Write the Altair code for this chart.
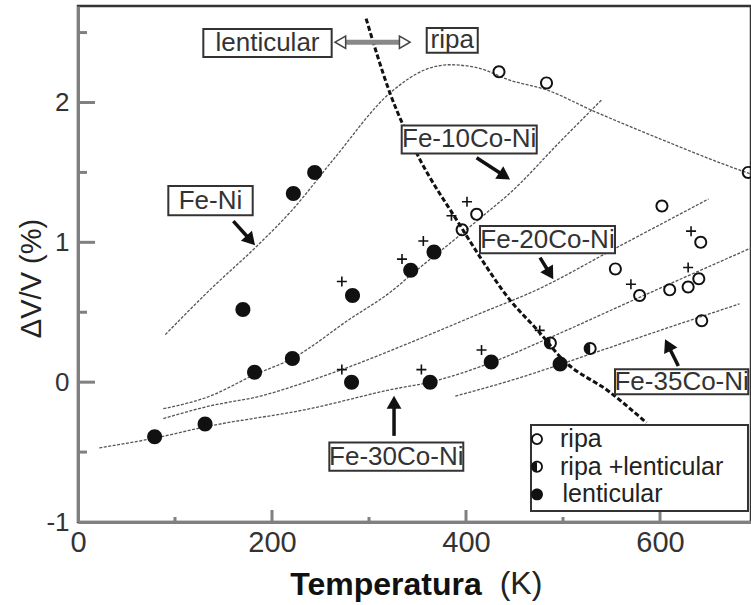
import math
import altair as alt
import pandas as pd

FONT = "Liberation Sans"

# ---------------- data ----------------
# fitted curves
feni_T = [90, 136, 184, 222, 263, 322, 360, 383, 411, 445, 483, 531, 600, 669, 693]
feni_V = [0.34, 0.66, 0.97, 1.24, 1.59, 2.07, 2.24, 2.27, 2.25, 2.16, 2.09, 1.94, 1.74, 1.55, 1.49]
co10_T = [88, 136, 181, 221, 280, 325, 342, 390, 421, 445, 497, 540]
co10_V = [-0.19, -0.10, 0.05, 0.17, 0.45, 0.66, 0.76, 1.03, 1.21, 1.35, 1.72, 2.02]
co20_T = [88, 136, 188, 239, 272, 352, 414, 473, 552, 650]
co20_V = [-0.26, -0.17, -0.10, 0.01, 0.09, 0.31, 0.49, 0.66, 0.95, 1.31]
co30_T = [22, 79, 131, 239, 325, 363, 426, 487, 580, 694]
co30_V = [-0.47, -0.40, -0.32, -0.19, -0.05, 0.00, 0.14, 0.32, 0.61, 0.96]
co35_T = [389, 450, 528, 600, 682]
co35_V = [-0.10, 0.02, 0.20, 0.37, 0.56]
# boundary lenticular / ripa
bd_T = [297, 322, 349, 394, 414, 445, 474, 500, 548, 586]
bd_V = [2.60, 2.06, 1.64, 1.12, 0.90, 0.59, 0.37, 0.16, -0.07, -0.29]

# measured points
len_T = [79, 131, 170, 182, 221, 222, 244, 282, 283, 343, 363, 367, 426, 497]
len_V = [-0.39, -0.30, 0.52, 0.07, 0.17, 1.35, 1.50, 0.00, 0.62, 0.80, 0.00, 0.93, 0.145, 0.13]
mix_T = [487, 528]
mix_V = [0.28, 0.24]
ripa_T = [396, 411, 434, 483, 554, 579, 602, 610, 629, 640, 642, 643, 691]
ripa_V = [1.09, 1.20, 2.22, 2.14, 0.81, 0.62, 1.26, 0.66, 0.68, 0.74, 1.00, 0.44, 1.50]
plus_T = [272, 334, 356, 385, 401, 272, 354, 416, 476, 570, 629, 632]
plus_V = [0.72, 0.88, 1.01, 1.19, 1.29, 0.09, 0.09, 0.23, 0.37, 0.70, 0.82, 1.08]

CATS = ["ripa", "ripa +lenticular", "lenticular"]

# annotation labels (boxes in data units)
lab_text = ["lenticular", "ripa", "Fe-Ni", "Fe-10Co-Ni", "Fe-20Co-Ni", "Fe-30Co-Ni", "Fe-35Co-Ni"]
lab_x1 = [129.2, 359.5, 93.1, 333.7, 414.4, 259.1, 553.6]
lab_x2 = [261.5, 412.1, 180.1, 472.9, 553.6, 397.2, 691.0]
lab_y1 = [2.326, 2.355, 1.193, 1.636, 0.921, -0.634, -0.086]
lab_y2 = [2.526, 2.533, 1.402, 1.836, 1.116, -0.431, 0.093]

# arrows (tail -> head)
arr_tT = [160.1, 410.9, 476.3, 325.8, 618.9]
arr_tV = [1.152, 1.605, 0.891, -0.384, 0.116]
arr_hT = [182.5, 445.4, 490.0, 325.8, 605.2]
arr_hV = [0.979, 1.450, 0.736, -0.098, 0.307]

# double arrow lenticular <-> ripa
dbl_left_T, dbl_right_T, dbl_V = 265.0, 342.3, 2.431

# legend placement (data units)
leg_x1, leg_x2, leg_y1, leg_y2 = 467.0, 690.7, -0.921, -0.306
leg_sym_T = 473.2
leg_txt_T = [496.9, 496.9, 499.5]
leg_row_V = [-0.407, -0.605, -0.803]

# x-axis title unit part, placed below the axis
unit_T, unit_V, unit_text = 456.7, -1.443, "(K)"

# ---------------- geometry ----------------
W, H = 673, 516
X_MAX = 693.8
Y_MIN, Y_MAX = -1.0, 2.69
KX = W / X_MAX
KY = H / (Y_MAX - Y_MIN)

XS = alt.Scale(domain=[0, X_MAX], nice=False, zero=False)
YS = alt.Scale(domain=[Y_MIN, Y_MAX], nice=False, zero=False)

XAX = alt.Axis(values=[0, 200, 400, 600], labelExpr="'' + datum.value", ticks=False, grid=False,
               domainColor="#808080", domainWidth=3, labelFont=FONT, labelFontSize=29,
               labelColor="#333", labelPadding=6, labelFlush=False,
               title="Temperatura", titleFont=FONT, titleFontSize=32, titleFontWeight="bold",
               titleColor="#111", titleX=307.5, titleY=62, titleBaseline="middle", titleAlign="center")
YAX = alt.Axis(values=[-1, 0, 1, 2], labelExpr="'' + datum.value", ticks=False, grid=False,
               domainColor="#808080", domainWidth=3, labelFont=FONT, labelFontSize=26,
               labelColor="#333", labelPadding=9,
               title="ΔV/V (%)", titleFont=FONT, titleFontSize=29, titleFontWeight="normal",
               titleColor="#222", titleAngle=270, titleX=-47, titleY=272,
               titleBaseline="middle", titleAlign="center")


def X():
    return alt.X("x:Q", scale=XS, axis=XAX)


def Y():
    return alt.Y("y:Q", scale=YS, axis=YAX)


# symbol paths (unit box -1..1)
OUT = "M -1 0 A 1 1 0 1 1 1 0 A 1 1 0 1 1 -1 0 Z"
IN = "M -0.7 0 A 0.7 0.7 0 1 0 0.7 0 A 0.7 0.7 0 1 0 -0.7 0 Z"
HALFD = "M 0 1 A 1 1 0 0 1 0 -1 Z"
RING = OUT + " " + IN
MIX = HALFD + " " + OUT + " " + IN
DISK = OUT
PLUS = "M -1 0 L 1 0 M 0 -1 L 0 1"
SHAPES = dict(zip(CATS, [RING, MIX, DISK]))

# ---------------- tables ----------------
rows = []
for name, T, V in [("Fe-Ni", feni_T, feni_V), ("10Co", co10_T, co10_V), ("20Co", co20_T, co20_V),
                   ("30Co", co30_T, co30_V), ("35Co", co35_T, co35_V)]:
    for i, (t, v) in enumerate(zip(T, V)):
        rows.append({"series": name, "i": i, "x": t, "y": v})
curves = pd.DataFrame(rows)
bound = pd.DataFrame({"i": range(len(bd_T)), "x": bd_T, "y": bd_V})

pts = pd.DataFrame(
    [{"x": t, "y": v, "type": "lenticular"} for t, v in zip(len_T, len_V)]
    + [{"x": t, "y": v, "type": "ripa +lenticular"} for t, v in zip(mix_T, mix_V)]
    + [{"x": t, "y": v, "type": "ripa"} for t, v in zip(ripa_T, ripa_V)]
)
pts["shape"] = pts["type"].map(SHAPES)
filled_pts = pd.DataFrame({"x": len_T, "y": len_V})
plus = pd.DataFrame({"x": plus_T, "y": plus_V})

boxes = pd.DataFrame({"x": lab_x1, "x2": lab_x2, "y": lab_y1, "y2": lab_y2})
texts = pd.DataFrame({"x": [(a + b) / 2 for a, b in zip(lab_x1, lab_x2)],
                      "y": [(a + b) / 2 for a, b in zip(lab_y1, lab_y2)],
                      "label": lab_text})

leg_box = pd.DataFrame({"x": [leg_x1], "x2": [leg_x2], "y": [leg_y1], "y2": [leg_y2]})
leg_sym = pd.DataFrame({"x": [leg_sym_T] * 3, "y": leg_row_V, "shape": [SHAPES[c] for c in CATS]})
leg_txt = pd.DataFrame({"x": leg_txt_T, "y": leg_row_V, "label": CATS})
unit_df = pd.DataFrame({"x": [unit_T], "y": [unit_V], "label": [unit_text]})

# ticks (inward)
tk = []
for v in [0, 1, 2]:
    tk.append({"x": 0, "x2": 17 / KX, "y": v, "y2": v})
for v in [-0.5, 0.5, 1.5, 2.5]:
    tk.append({"x": 0, "x2": 9 / KX, "y": v, "y2": v})
for v in [200, 400, 600]:
    tk.append({"x": v, "x2": v, "y": Y_MIN, "y2": Y_MIN + 12 / KY})
for v in [100, 300, 500]:
    tk.append({"x": v, "x2": v, "y": Y_MIN, "y2": Y_MIN + 5 / KY})
ticks = pd.DataFrame(tk)

# arrows
HEAD = 220
h_px = 0.433 * math.sqrt(HEAD)
shafts, heads = [], []
for tx, ty, hx, hy in zip(arr_tT, arr_tV, arr_hT, arr_hV):
    dx = (hx - tx) * KX
    dy = -(hy - ty) * KY
    L = math.hypot(dx, dy)
    ux, uy = dx / L, dy / L
    cx = hx - ux * h_px / KX
    cy = hy + uy * h_px / KY
    ang = math.degrees(math.atan2(dx, -dy)) % 360
    shafts.append({"x": tx, "y": ty, "x2": cx, "y2": cy})
    heads.append({"x": cx, "y": cy, "angle": ang})
shafts = pd.DataFrame(shafts)
heads = pd.DataFrame(heads)

DBL = 150
dh = 0.433 * math.sqrt(DBL)
dbl_shaft = pd.DataFrame({"x": [dbl_left_T + 2 * dh / KX], "x2": [dbl_right_T - 2 * dh / KX],
                          "y": [dbl_V], "y2": [dbl_V]})
dbl_heads = pd.DataFrame({"x": [dbl_left_T + dh / KX, dbl_right_T - dh / KX],
                          "y": [dbl_V, dbl_V],
                          "shape": ["triangle-left", "triangle-right"]})

# ---------------- layers ----------------
tick_layer = alt.Chart(ticks).mark_rule(color="#808080", strokeWidth=3).encode(
    x=X(), x2="x2:Q", y=Y(), y2="y2:Q")

curve_layer = alt.Chart(curves).mark_line(
    color="#555", strokeWidth=1.3, strokeDash=[3, 1.5], interpolate="monotone").encode(
    x=X(), y=Y(), detail="series:N", order="i:Q")

bound_layer = alt.Chart(bound).mark_line(
    color="#111", strokeWidth=3, strokeDash=[5, 2.5], interpolate="monotone").encode(
    x=X(), y=Y(), order="i:Q")

box_layer = alt.Chart(boxes).mark_rect(fill="white", stroke="#333", strokeWidth=2).encode(
    x=X(), x2="x2:Q", y=Y(), y2="y2:Q")

text_layer = alt.Chart(texts).mark_text(
    font=FONT, fontSize=26, color="#333", align="center", baseline="middle").encode(
    x=X(), y=Y(), text="label:N")

shaft_layer = alt.Chart(shafts).mark_rule(color="#111", strokeWidth=3.5).encode(
    x=X(), x2="x2:Q", y=Y(), y2="y2:Q")
head_layer = alt.Chart(heads).mark_point(
    shape="triangle-up", filled=True, color="#111", size=HEAD, opacity=1).encode(
    x=X(), y=Y(), angle=alt.Angle("angle:Q", scale=None))

dbl_shaft_layer = alt.Chart(dbl_shaft).mark_rule(color="#888", strokeWidth=5).encode(
    x=X(), x2="x2:Q", y=Y(), y2="y2:Q")
dbl_head_layer = alt.Chart(dbl_heads).mark_point(
    filled=True, fill="white", stroke="#444", strokeWidth=1.5, size=DBL, opacity=1).encode(
    x=X(), y=Y(), shape=alt.Shape("shape:N", scale=None))

plus_layer = alt.Chart(plus).mark_point(
    shape=PLUS, filled=False, color="#111", strokeWidth=1.6, size=100, opacity=1).encode(
    x=X(), y=Y())

point_layer = alt.Chart(pts).mark_point(filled=True, color="#111", size=169, opacity=1).encode(
    x=X(), y=Y(), shape=alt.Shape("shape:N", scale=None))
big_layer = alt.Chart(filled_pts).mark_point(
    shape=DISK, filled=True, color="#111", size=225, opacity=1).encode(x=X(), y=Y())

leg_box_layer = alt.Chart(leg_box).mark_rect(fill="white", stroke="#333", strokeWidth=2).encode(
    x=X(), x2="x2:Q", y=Y(), y2="y2:Q")
leg_sym_layer = alt.Chart(leg_sym).mark_point(filled=True, color="#111", size=140, opacity=1).encode(
    x=X(), y=Y(), shape=alt.Shape("shape:N", scale=None))
leg_txt_layer = alt.Chart(leg_txt).mark_text(
    font=FONT, fontSize=25, color="#222", align="left", baseline="middle").encode(
    x=X(), y=Y(), text="label:N")

unit_layer = alt.Chart(unit_df).mark_text(
    font=FONT, fontSize=32, color="#222", align="center", baseline="middle", clip=False).encode(
    x=X(), y=Y(), text="label:N")

chart = alt.layer(
    tick_layer, curve_layer, bound_layer, box_layer, text_layer, shaft_layer, head_layer,
    dbl_shaft_layer, dbl_head_layer, plus_layer, point_layer, big_layer,
    leg_box_layer, leg_sym_layer, leg_txt_layer, unit_layer
).properties(
    width=W, height=H,
    autosize=alt.AutoSizeParams(type="none"),
    padding={"left": 78, "top": 6, "right": 0, "bottom": 83},
).configure_view(stroke="#333", strokeWidth=2.5)

chart.save("out.html", embed_options={"renderer": "svg", "actions": False})
